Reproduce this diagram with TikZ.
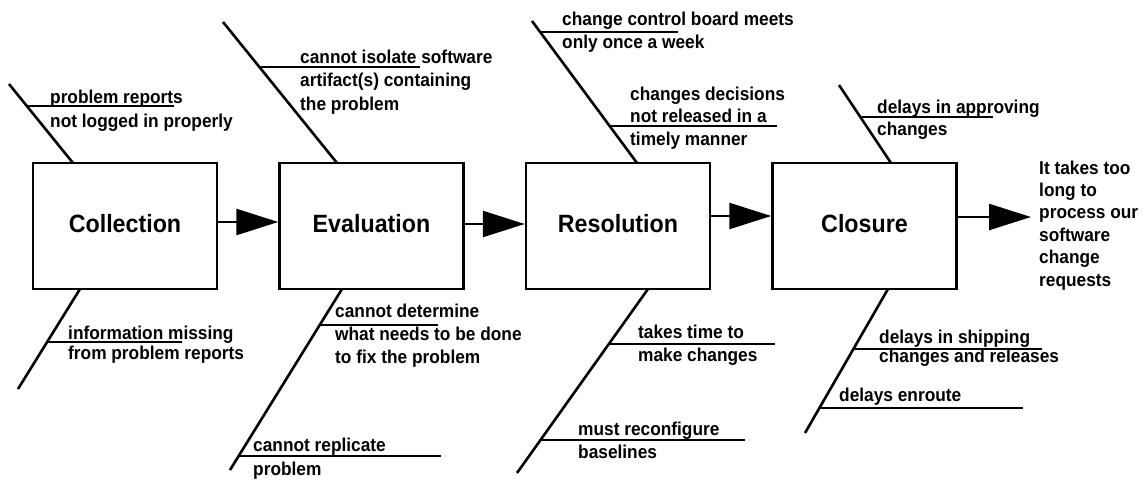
\documentclass[tikz,border=0pt]{standalone}
\usepackage{fontspec}
\setmainfont{Liberation Sans}[FakeStretch=0.93]
\usetikzlibrary{positioning,arrows.meta}

\begin{document}
\begin{tikzpicture}[x=1pt, y=-1pt,
  stage/.style={draw, line width=2.5pt, minimum width=184pt, minimum height=126pt,
                text depth=0.5em, font=\bfseries\fontsize{25}{30}\selectfont},
  bone/.style={line width=2.6pt},
  tick/.style={line width=2pt},
  cause/.style={anchor=base west, inner sep=0pt, align=left,
                font=\bfseries\fontsize{18.6}{#1}\selectfont},
  cause/.default=23,
  flow/.style={line width=2.5pt, -{Triangle[length=42pt, width=26pt]}},
  node distance=60pt,
]
\useasboundingbox (0,0) rectangle (1142,479);

% process steps
\node[stage] (coll) at (125,226) {Collection};
\node[stage, right=of coll] (eval) {Evaluation};
\node[stage, right=of eval] (res) {Resolution};
\node[stage, right=of res] (clos) {Closure};

% texts are placed by the baseline of their last line
\node[cause=22.4] (out) at (1039,286)
  {It takes too\\long to\\process our\\software\\change\\requests};
\coordinate (goal) at (1031,217);

\draw[flow] ([yshift=4pt]coll.east) -- ([yshift=4pt]eval.west);
\draw[flow] ([yshift=2pt]eval.east) -- ([yshift=2pt]res.west);
\draw[flow] ([yshift=10pt]res.east) -- ([yshift=10pt]clos.west);
\draw[flow] ([yshift=9pt]clos.east) -- (goal);

% Collection causes
\draw[bone] (9,84) -- (73,163);
\draw[tick] (27,106) -- (174,106);
\node[cause=24] (collup) at (50,127) {problem reports\\not logged in properly};
\draw[bone] (80,289) -- (18,389);
\draw[tick] (47,342) -- (182,342);
\node[cause=20] (colldn) at (68,359) {information missing\\from problem reports};

% Evaluation causes
\draw[bone] (223,22) -- (337,163);
\draw[tick] (260,67) -- (420,67);
\node[cause=23.5] (evalup) at (300,110) {cannot isolate software\\artifact(s) containing\\the problem};
\draw[bone] (342,289) -- (230,470);
\draw[tick] (320,325) -- (438,325);
\draw[tick] (239,456) -- (441,456);
\node[cause] (evaldn) at (335,363) {cannot determine\\what needs to be done\\to fix the problem};
\node[cause=24] (evalrep) at (253,475) {cannot replicate\\problem};

% Resolution causes
\draw[bone] (532,21) -- (637,163);
\draw[tick] (540,32) -- (678,32);
\draw[tick] (610,126) -- (777,126);
\node[cause] (resup) at (562,48) {change control board meets\\only once a week};
\node[cause=22.5] (resdec) at (630,145) {changes decisions\\not released in a\\timely manner};
\draw[bone] (648,289) -- (517,473);
\draw[tick] (609,344) -- (775,344);
\draw[tick] (541,440) -- (745,440);
\node[cause] (resdn) at (638,361) {takes time to\\make changes};
\node[cause] (resbase) at (578,458) {must reconfigure\\baselines};

% Closure causes
\draw[bone] (839,85) -- (891,163);
\draw[tick] (861,117) -- (993,117);
\node[cause=22] (closup) at (877,135) {delays in approving\\changes};
\draw[bone] (888,289) -- (805,433);
\draw[tick] (854,349) -- (1042,349);
\draw[tick] (819,408) -- (1023,408);
\node[cause=19] (closdn) at (879,362) {delays in shipping\\changes and releases};
\node[cause] (closrte) at (839,401) {delays enroute};

\end{tikzpicture}
\end{document}
